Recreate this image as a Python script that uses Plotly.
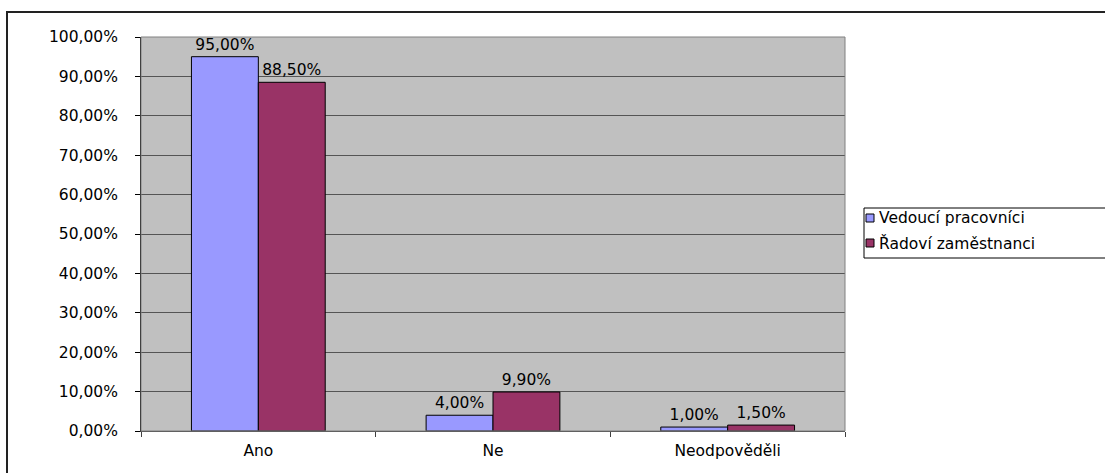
import plotly.graph_objects as go

# Survey answers per respondent group
categories = ["Ano", "Ne", "Neodpověděli"]
series_names = ["Vedoucí pracovníci", "Řadoví zaměstnanci"]
vedouci = [0.95, 0.04, 0.01]
radovi = [0.885, 0.099, 0.015]
series_values = [vedouci, radovi]
series_colors = ["#9999FF", "#993366"]

W, H = 1105, 473
L, R, T, B = 141, 260, 37, 42
PW, PH = W - L - R, H - T - B


def px_x(px):
    return (px - L) / PW


def px_y(py):
    return (H - B - py) / PH


FONT = dict(family="DejaVu Sans, Arial, sans-serif", size=15.5, color="black")

fig = go.Figure()
for name, vals, col in zip(series_names, series_values, series_colors):
    fig.add_trace(go.Bar(
        x=categories, y=vals, name=name,
        marker=dict(color=col, line=dict(color="black", width=1)),
        texttemplate="%{y:.2%}", textposition="outside",
        textfont=FONT, cliponaxis=False, showlegend=False,
    ))

shapes = [
    # outer chart frame
    dict(type="rect", xref="paper", yref="paper",
         x0=px_x(7), x1=px_x(1120), y0=px_y(490), y1=px_y(12),
         line=dict(color="#222222", width=2), layer="below"),
    # plot area border
    dict(type="rect", xref="paper", yref="paper", x0=0, x1=1, y0=0, y1=1,
         line=dict(color="#808080", width=1), layer="above"),
    # legend box
    dict(type="rect", xref="paper", yref="paper",
         x0=px_x(864), x1=px_x(1120), y0=px_y(258), y1=px_y(208),
         line=dict(color="black", width=1), fillcolor="white"),
]
annotations = []
for i, (name, col) in enumerate(zip(series_names, series_colors)):
    cy = 218 + i * 25
    shapes.append(dict(type="rect", xref="paper", yref="paper",
                       x0=px_x(866), x1=px_x(874), y0=px_y(cy + 4), y1=px_y(cy - 4),
                       line=dict(color="black", width=1), fillcolor=col))
    annotations.append(dict(xref="paper", yref="paper", x=px_x(877), y=px_y(cy),
                            xanchor="left", yanchor="middle", text=name,
                            showarrow=False, font=FONT))

fig.update_layout(
    width=W, height=H, autosize=False,
    margin=dict(l=L, r=R, t=T, b=B, pad=0),
    paper_bgcolor="white", plot_bgcolor="#C0C0C0",
    separators=", ",
    barmode="group", bargap=0.43, bargroupgap=0,
    font=FONT, showlegend=False,
    shapes=shapes, annotations=annotations,
)
fig.update_yaxes(
    range=[0, 1.0], dtick=0.1, tickformat=".2%",
    showgrid=True, gridcolor="#555555", gridwidth=1,
    showline=True, linecolor="black", linewidth=1,
    ticks="outside", ticklen=5, tickcolor="black",
    ticklabelstandoff=14, tickfont=FONT, zeroline=False,
)
fig.update_xaxes(
    showgrid=False, showline=True, linecolor="#404040", linewidth=1,
    ticks="outside", ticklen=5, tickcolor="#404040", tickson="boundaries",
    ticklabelstandoff=5, tickfont=FONT,
)

fig.write_html("out.html")
